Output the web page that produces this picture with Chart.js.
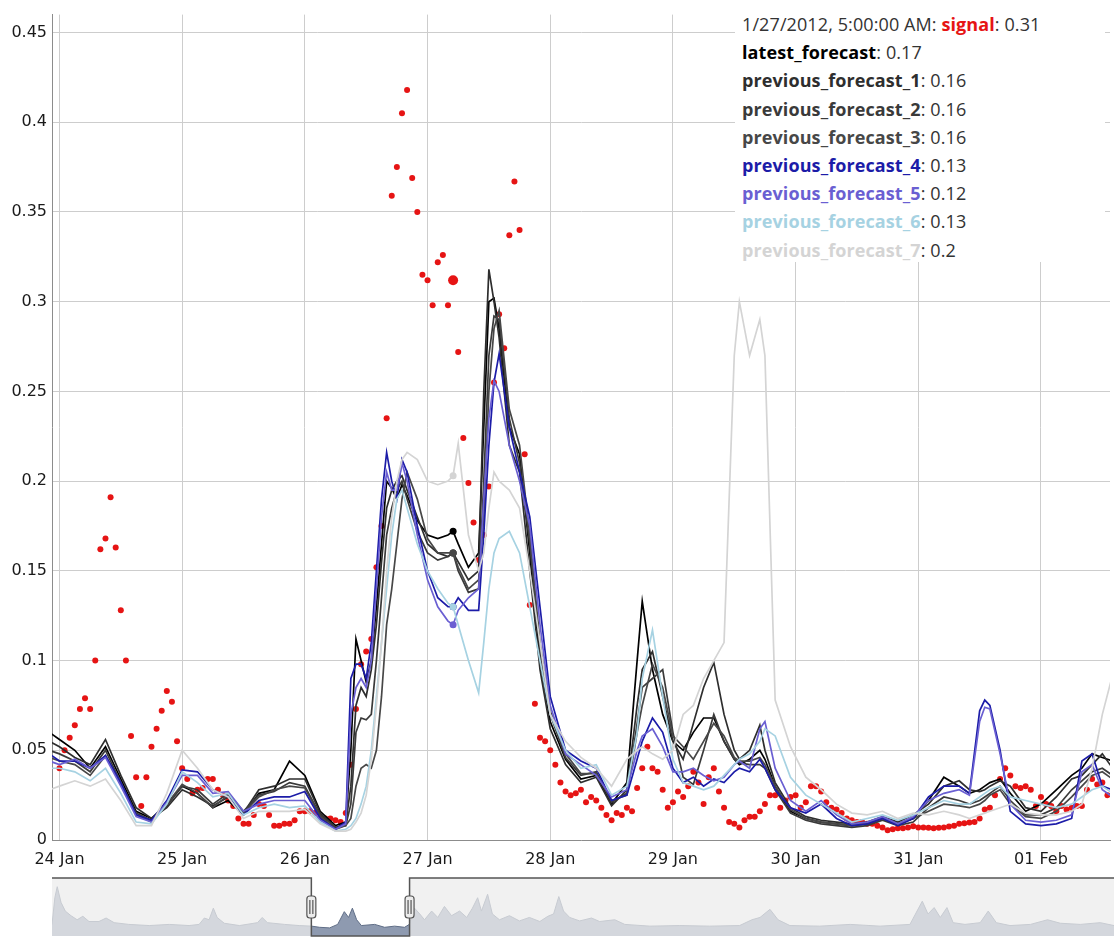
<!DOCTYPE html>
<html>
<head>
<meta charset="utf-8">
<script src="https://cdn.jsdelivr.net/npm/chart.js@4.4.1/dist/chart.umd.min.js"></script>
<style>
  body { margin: 0; background: #fff; }
  #wrap { position: relative; width: 1114px; height: 937px; overflow: hidden; }
  #main { position: absolute; left: 0; top: 0; }
  #nav { position: absolute; left: 0; top: 870px; }
  #legend {
    position: absolute; left: 735px; top: 0; width: 370px; height: 262px;
    background: #fff; padding: 10px 0 0 7px; box-sizing: border-box;
    font-family: 'Open Sans', sans-serif; font-size: 18px; letter-spacing: 0.1px; color: #333;
  }
  #legend div { height: 28.2px; line-height: 28.2px; white-space: nowrap; }
  #legend b { font-weight: 700; }
</style>
</head>
<body>
<div id="wrap">
  <canvas id="main" width="1114" height="875"></canvas>
  <canvas id="nav" width="1114" height="75"></canvas>
  <div id="legend"></div>
</div>
<script>
// hours since 24 Jan 00:00
const dayTicks = [0, 24, 48, 72, 96, 120, 144, 168, 192];
const dayLabels = ['24 Jan', '25 Jan', '26 Jan', '27 Jan', '28 Jan', '29 Jan', '30 Jan', '31 Jan', '01 Feb'];
const yTicks = [0, 0.05, 0.1, 0.15, 0.2, 0.25, 0.3, 0.35, 0.4, 0.45];
const yLabels = ['0', '0.05', '0.1', '0.15', '0.2', '0.25', '0.3', '0.35', '0.4', '0.45'];

const highlightHour = 77;
const highlightStamp = '1/27/2012, 5:00:00 AM';

// signal, one value per hour from 24 Jan 00:00
const signalValues = [
  .040,.050,.057,.064,.073,.079,.073,.100,.162,.168,
  .191,.163,.128,.100,.058,.035,.019,.035,.052,.062,
  .072,.083,.077,.055,.040,.034,.026,.028,.029,.034,
  .034,.028,.025,.022,.019,.012,.009,.009,.014,.020,
  .019,.014,.008,.008,.009,.009,.011,.016,.016,.016,
  .015,.013,.012,.012,.011,.010,.015,.042,.073,.098,
  .105,.112,.152,.175,.235,.359,.375,.405,.418,.369,
  .350,.315,.312,.298,.322,.326,.298,.312,.272,.224,
  .199,.177,.156,.170,.197,.255,.293,.274,.337,.367,
  .340,.215,.131,.076,.057,.055,.050,.042,.032,.027,
  .025,.026,.028,.021,.024,.022,.018,.014,.011,.015,
  .014,.018,.016,.029,.040,.052,.040,.038,.028,.018,
  .021,.027,.024,.030,.038,.032,.020,.035,.040,.027,
  .018,.010,.009,.007,.011,.013,.013,.016,.020,.025,
  .025,.018,.022,.024,.025,.018,.021,.030,.030,.027,
  .021,.018,.017,.015,.012,.011,.010,.010,.009,.009,
  .008,.007,.0055,.006,.0065,.0066,.007,.0077,.007,.007,
  .0068,.0066,.0068,.007,.0075,.008,.009,.0094,.0097,.010,
  .012,.017,.018,.025,.034,.040,.036,.030,.029,.030,
  .028,.019,.024,.020,.019,.016,.019,.017,.018,.019,
  .019,.028,.034,.031,.032,.025
];

const fcHours = [
  -2,0,3,6,9,12,15,18,21,24,27,30,33,36,39,42,45,48,51,54,
  56,57,58,59,60,61,62,63,64,65,66,67,68,70,72,74,76,77,78,80,
  82,83,84,85,86,88,90,92,94,96,99,102,105,108,111,113,114,116,118,120,
  122,124,126,128,130,132,133,135,137,138,140,143,146,149,152,155,158,161,164,167,
  170,173,176,178,180,181,182,184,186,189,192,195,198,200,202,204,206
];

const latestForecast = [
  .060,.056,.050,.040,.052,.034,.016,.012,.020,.030,.026,.018,.022,.014,.026,.028,.044,.036,.016,.008,
  .010,.050,.112,.100,.088,.100,.130,.165,.200,.196,.190,.198,.192,.178,.170,.168,.170,.172,.165,.152,
  .160,.230,.300,.302,.285,.230,.215,.160,.100,.066,.045,.034,.036,.020,.032,.100,.133,.095,.070,.055,
  .050,.060,.068,.068,.055,.045,.042,.045,.050,.045,.030,.016,.012,.010,.009,.008,.009,.012,.009,.012,
  .022,.035,.030,.026,.028,.030,.032,.034,.026,.016,.020,.028,.036,.040,.048,.046,.044
];
const previousForecast1 = [
  .055,.052,.046,.042,.056,.036,.018,.012,.018,.028,.024,.019,.024,.015,.028,.030,.034,.034,.015,.007,
  .009,.030,.075,.085,.080,.095,.120,.155,.185,.195,.200,.203,.195,.180,.165,.160,.158,.160,.155,.145,
  .150,.250,.318,.300,.280,.220,.205,.150,.095,.062,.042,.032,.035,.019,.028,.075,.095,.105,.080,.055,
  .045,.065,.085,.099,.070,.050,.045,.050,.064,.050,.032,.018,.013,.011,.010,.009,.010,.013,.010,.014,
  .020,.030,.033,.028,.027,.028,.030,.033,.030,.018,.016,.024,.034,.036,.042,.048,.040
];
const previousForecast2 = [
  .050,.048,.044,.038,.050,.032,.015,.011,.019,.030,.028,.020,.026,.016,.025,.027,.032,.030,.014,.007,
  .008,.020,.060,.068,.067,.070,.100,.135,.170,.185,.195,.200,.190,.172,.160,.156,.158,.160,.150,.138,
  .140,.200,.270,.292,.290,.235,.210,.165,.105,.070,.046,.036,.038,.021,.026,.065,.085,.090,.095,.060,
  .035,.031,.050,.070,.055,.045,.043,.042,.042,.040,.028,.015,.011,.009,.008,.007,.008,.011,.008,.010,
  .018,.024,.022,.020,.022,.024,.026,.030,.022,.014,.014,.018,.028,.033,.038,.040,.036
];
const previousForecast3 = [
  .046,.044,.042,.036,.047,.031,.014,.010,.020,.031,.026,.018,.025,.015,.024,.028,.030,.029,.013,.006,
  .008,.012,.030,.040,.042,.040,.050,.080,.120,.140,.165,.190,.205,.190,.168,.160,.160,.160,.152,.140,
  .145,.180,.250,.285,.295,.240,.220,.170,.110,.072,.048,.037,.037,.022,.025,.060,.075,.098,.085,.058,
  .052,.045,.055,.065,.058,.046,.044,.044,.046,.042,.030,.017,.012,.010,.009,.008,.009,.012,.009,.012,
  .016,.020,.019,.018,.020,.022,.025,.028,.020,.013,.012,.016,.024,.030,.036,.038,.034
];
const previousForecast4 = [
  .048,.044,.044,.040,.047,.032,.014,.011,.022,.039,.038,.028,.024,.014,.022,.024,.024,.027,.012,.006,
  .010,.090,.098,.098,.090,.110,.150,.190,.216,.200,.190,.212,.205,.175,.150,.135,.130,.130,.135,.128,
  .128,.170,.220,.255,.271,.230,.205,.180,.130,.080,.050,.044,.040,.022,.025,.045,.055,.068,.060,.040,
  .032,.035,.030,.034,.032,.038,.040,.038,.045,.040,.028,.018,.015,.020,.012,.008,.009,.012,.008,.012,
  .024,.030,.030,.026,.072,.078,.075,.050,.016,.009,.008,.009,.012,.044,.048,.030,.028
];
const previousForecast5 = [
  .044,.042,.045,.040,.046,.030,.013,.010,.021,.036,.036,.026,.027,.016,.020,.022,.022,.022,.011,.006,
  .009,.070,.085,.090,.085,.100,.140,.180,.205,.195,.195,.210,.200,.170,.145,.130,.122,.120,.128,.135,
  .140,.190,.235,.256,.250,.220,.200,.175,.120,.075,.048,.042,.036,.024,.028,.050,.058,.062,.052,.038,
  .038,.040,.036,.033,.035,.042,.044,.040,.062,.066,.040,.022,.016,.022,.014,.009,.010,.013,.009,.013,
  .022,.026,.028,.025,.066,.074,.073,.048,.020,.011,.010,.011,.014,.038,.042,.028,.024
];
const previousForecast6 = [
  .040,.040,.038,.033,.040,.026,.010,.009,.020,.038,.032,.024,.026,.014,.018,.020,.018,.019,.010,.005,
  .006,.008,.012,.020,.030,.050,.080,.110,.140,.170,.190,.195,.185,.165,.150,.140,.132,.130,.120,.100,
  .082,.110,.140,.160,.168,.172,.160,.130,.100,.070,.050,.040,.042,.025,.030,.060,.090,.117,.080,.045,
  .032,.030,.028,.030,.036,.042,.045,.048,.055,.062,.058,.035,.025,.020,.015,.010,.012,.014,.011,.014,
  .018,.022,.020,.020,.024,.026,.028,.030,.024,.022,.020,.018,.020,.024,.028,.030,.026
];
const previousForecast7 = [
  .028,.030,.033,.030,.034,.022,.008,.008,.026,.050,.040,.028,.024,.012,.016,.016,.016,.017,.009,.005,
  .005,.006,.010,.015,.025,.045,.075,.110,.150,.180,.200,.212,.216,.212,.200,.198,.200,.203,.221,.170,
  .150,.160,.185,.205,.200,.195,.185,.150,.110,.070,.055,.046,.040,.030,.045,.050,.052,.048,.045,.050,
  .070,.075,.090,.100,.110,.270,.300,.270,.290,.270,.078,.052,.035,.028,.020,.015,.014,.016,.012,.015,
  .014,.016,.014,.012,.014,.015,.016,.018,.020,.015,.014,.014,.016,.020,.040,.070,.092
];

// range selector: whole record, hours since 24 Jan
const windowStart = -1.46;
const windowEnd = 205.5;
const navHours = [
  -548,-542,-537,-529,-520,-508,-495,-483,-470,-449,-434,-417,-386,-343,-301,-259,-238,-227,-217,-208,
  -200,-185,-153,-115,-105,-94,-58,-27,-1,16,37,54,68,77,85,94,104,132,153,174,
  195,205,216,227,237,252,265,279,294,311,326,338,349,357,370,380,395,416,437,458,
  480,497,509,520,530,543,564,589,606,638,659,712,775,838,901,927,944,965,982,1007,
  1070,1134,1197,1260,1286,1298,1311,1324,1338,1351,1376,1408,1425,1442,1471,1514,1550,1577,1619,1661,1690
];
const navValues = [
  .20,.66,.85,.58,.43,.35,.28,.34,.25,.25,.31,.23,.20,.18,.20,.18,.20,.31,.28,.48,
  .32,.22,.18,.23,.32,.23,.20,.18,.17,.15,.14,.20,.42,.32,.48,.28,.18,.20,.15,.17,
  .15,.20,.48,.38,.28,.43,.32,.51,.35,.43,.32,.48,.66,.43,.72,.38,.28,.35,.26,.32,
  .25,.34,.38,.68,.43,.32,.26,.31,.25,.28,.20,.17,.18,.17,.18,.28,.32,.46,.28,.18,
  .17,.20,.17,.20,.60,.38,.49,.32,.49,.23,.20,.23,.43,.23,.18,.20,.28,.22,.20,.23,.18
];

const series = [
  { name: 'signal', color: 'rgb(230,20,20)', hours: null, values: signalValues },
  { name: 'latest_forecast', color: '#000000', hours: fcHours, values: latestForecast },
  { name: 'previous_forecast_1', color: '#2e2e2e', hours: fcHours, values: previousForecast1 },
  { name: 'previous_forecast_2', color: '#3a3a3a', hours: fcHours, values: previousForecast2 },
  { name: 'previous_forecast_3', color: '#474747', hours: fcHours, values: previousForecast3 },
  { name: 'previous_forecast_4', color: '#1c1ca8', hours: fcHours, values: previousForecast4 },
  { name: 'previous_forecast_5', color: '#6a5fd2', hours: fcHours, values: previousForecast5 },
  { name: 'previous_forecast_6', color: '#a6d2e2', hours: fcHours, values: previousForecast6 },
  { name: 'previous_forecast_7', color: '#d4d4d4', hours: fcHours, values: previousForecast7 }
];

function toPoints(hours, values) {
  return values.map((v, i) => ({ x: hours ? hours[i] : i, y: v }));
}

const axisFont = { family: 'DejaVu Sans', size: 16 };

const datasets = series.map((s, i) => {
  const isSignal = s.name === 'signal';
  return {
    label: s.name,
    data: toPoints(s.hours, s.values),
    borderColor: s.color,
    backgroundColor: s.color,
    pointBackgroundColor: s.color,
    borderWidth: isSignal ? 0 : 1.7,
    showLine: !isSignal,
    pointBorderWidth: 0,
    pointRadius: ctx => {
      const hit = ctx.raw && ctx.raw.x === highlightHour;
      if (isSignal) return hit ? 5 : 3;
      return hit ? 3.5 : 0;
    },
    tension: 0,
    order: series.length - i
  };
});

new Chart(document.getElementById('main'), {
  type: 'line',
  data: { datasets: datasets },
  options: {
    responsive: false,
    animation: false,
    events: [],
    layout: { padding: { top: 12, right: 0, left: 0, bottom: 0 } },
    plugins: { legend: { display: false }, tooltip: { enabled: false } },
    scales: {
      x: {
        type: 'linear', min: windowStart, max: windowEnd,
        afterBuildTicks: s => { s.ticks = dayTicks.map(v => ({ value: v })); },
        afterFit: s => { s.height = 35; },
        ticks: { callback: (v, i) => dayLabels[i], font: axisFont, color: '#1a1a1a', padding: 10, maxRotation: 0, autoSkip: false },
        grid: { color: '#cdcdcd', drawTicks: false },
        border: { color: '#8c8c8c' }
      },
      y: {
        min: 0, max: 0.46,
        afterBuildTicks: s => { s.ticks = yTicks.map(v => ({ value: v })); },
        afterFit: s => { s.width = 52; },
        ticks: { callback: (v, i) => yLabels[i], font: axisFont, color: '#1a1a1a', padding: 5, autoSkip: false },
        grid: { color: '#cdcdcd', drawTicks: false },
        border: { color: '#8c8c8c' }
      }
    }
  }
});

// range selector frame, shading and handles
const navDecor = {
  id: 'navDecor',
  afterDatasetsDraw(chart) {
    const { ctx, chartArea: a, scales: { x } } = chart;
    const xl = x.getPixelForValue(windowStart);
    const xr = x.getPixelForValue(windowEnd);
    ctx.save();
    ctx.fillStyle = 'rgba(236,236,236,0.74)';
    ctx.fillRect(a.left, a.top, xl - a.left, a.bottom - a.top);
    ctx.fillRect(xr, a.top, a.right - xr, a.bottom - a.top);
    ctx.strokeStyle = '#555';
    ctx.lineWidth = 1.5;
    ctx.beginPath();
    ctx.moveTo(a.left, a.top);
    ctx.lineTo(xl, a.top);
    ctx.lineTo(xl, a.bottom);
    ctx.lineTo(xr, a.bottom);
    ctx.lineTo(xr, a.top);
    ctx.lineTo(a.right, a.top);
    ctx.stroke();
    [xl, xr].forEach(px => {
      const w = 9, h = 22, y = (a.top + a.bottom) / 2 - h / 2;
      ctx.fillStyle = '#ececec';
      ctx.strokeStyle = '#555';
      ctx.lineWidth = 1.2;
      ctx.beginPath();
      if (ctx.roundRect) ctx.roundRect(px - w / 2, y, w, h, 3); else ctx.rect(px - w / 2, y, w, h);
      ctx.fill();
      ctx.stroke();
      ctx.beginPath();
      ctx.moveTo(px - 1.5, y + 4); ctx.lineTo(px - 1.5, y + h - 4);
      ctx.moveTo(px + 1.5, y + 4); ctx.lineTo(px + 1.5, y + h - 4);
      ctx.stroke();
    });
    ctx.restore();
  }
};

new Chart(document.getElementById('nav'), {
  type: 'line',
  data: {
    datasets: [{
      data: toPoints(navHours, navValues),
      borderColor: '#5f6d86',
      backgroundColor: '#8e9ab0',
      borderWidth: 1,
      pointRadius: 0,
      fill: 'origin',
      tension: 0
    }]
  },
  options: {
    responsive: false,
    animation: false,
    events: [],
    layout: { padding: { top: 8, right: 0, left: 52, bottom: 9 } },
    plugins: { legend: { display: false }, tooltip: { enabled: false } },
    scales: {
      x: { type: 'linear', display: false, min: navHours[0], max: navHours[navHours.length - 1] },
      y: { display: false, min: 0, max: 1 }
    }
  },
  plugins: [navDecor]
});

// value legend at the highlighted hour
const legend = document.getElementById('legend');
series.forEach((s, i) => {
  const idx = s.hours ? s.hours.indexOf(highlightHour) : highlightHour;
  const val = Number(s.values[idx].toPrecision(2));
  const row = document.createElement('div');
  const prefix = i === 0 ? highlightStamp + ': ' : '';
  row.innerHTML = prefix + '<b style="color:' + s.color + '">' + s.name + '</b>: ' + val;
  legend.appendChild(row);
});
</script>
</body>
</html>
